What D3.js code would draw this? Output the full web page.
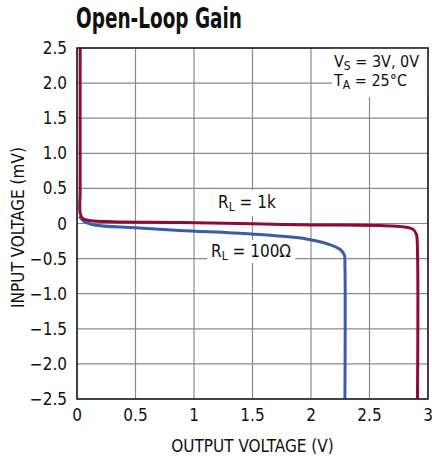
<!DOCTYPE html>
<html>
<head>
<meta charset="utf-8">
<script src="https://cdn.jsdelivr.net/npm/d3@7"></script>
<style>
  body { margin: 0; background: #fff; }
  text { font-family: "Liberation Sans Narrow", "DejaVu Sans Condensed", sans-serif; fill: #111; }
</style>
</head>
<body>
<script>
// Width and Height
const w = 432;
const h = 462;
const margin = {top: 48, right: 4, bottom: 63, left: 77};

// tick values
const xTicks = [0, 0.5, 1, 1.5, 2, 2.5, 3];
const xTickLabels = ["0", "0.5", "1", "1.5", "2", "2.5", "3"];
const yTicks = [2.5, 2.0, 1.5, 1.0, 0.5, 0, -0.5, -1.0, -1.5, -2.0, -2.5];
const yTickLabels = ["2.5", "2.0", "1.5", "1.0", "0.5", "0", "\u22120.5", "\u22121.0", "\u22121.5", "\u22122.0", "\u22122.5"];

// RL = 1k curve (output V, input mV)
const red1kX = [0.027, 0.027, 0.028, 0.05, 0.12, 0.3, 0.88, 1.5, 2.0, 2.59, 2.8, 2.87, 2.9, 2.91, 2.91];
const red1kY = [2.5, 0.5, 0.14, 0.07, 0.04, 0.025, 0.015, -0.005, -0.02, -0.03, -0.05, -0.08, -0.15, -0.4, -2.5];

// RL = 100 ohm curve
const blue100X = [0.02, 0.06, 0.15, 0.5, 0.88, 1.49, 1.96, 2.16, 2.25, 2.285, 2.29, 2.29];
const blue100Y = [0.1, 0.03, -0.02, -0.06, -0.10, -0.15, -0.22, -0.30, -0.37, -0.45, -0.6, -2.5];

const svg = d3.select("body")
              .append("svg")
              .attr("width", w)
              .attr("height", h);

const x = d3.scaleLinear().domain([0, 3]).range([margin.left, w - margin.right]);
const y = d3.scaleLinear().domain([-2.5, 2.5]).range([h - margin.bottom, margin.top]);

// grid
svg.append("g")
   .selectAll("line")
   .data(xTicks)
   .enter()
   .append("line")
   .attr("x1", d => x(d)).attr("x2", d => x(d))
   .attr("y1", y(2.5)).attr("y2", y(-2.5))
   .attr("stroke", "#8a8a8a").attr("stroke-width", 1.2);

svg.append("g")
   .selectAll("line")
   .data(yTicks)
   .enter()
   .append("line")
   .attr("x1", x(0)).attr("x2", x(3))
   .attr("y1", d => y(d)).attr("y2", d => y(d))
   .attr("stroke", "#8a8a8a").attr("stroke-width", 1.2);

// text with a subscript
function subText(g, xp, yp, main, sub, rest, size) {
  const t = g.append("text").attr("x", xp).attr("y", yp).style("font-size", size + "px");
  t.append("tspan").text(main);
  t.append("tspan").attr("dy", 3).style("font-size", "12px").text(sub);
  t.append("tspan").attr("dy", -3).text(rest);
  return t;
}

// label with white box behind it
function label(xp, yp, main, sub, rest, pad) {
  const g = svg.append("g");
  const rect = g.append("rect").attr("fill", "#fff");
  const t = subText(g, xp, yp, main, sub, rest, 17);
  const b = t.node().getBBox();
  rect.attr("x", b.x - pad[0]).attr("y", b.y - pad[1])
      .attr("width", b.width + pad[0] + pad[2]).attr("height", b.height + pad[1] + pad[3]);
  return g;
}

// line generator
const line = d3.line()
               .x(d => x(d[0]))
               .y(d => y(d[1]))
               .curve(d3.curveCatmullRom.alpha(0.5));

const redPts = red1kX.map((v, i) => [v, red1kY[i]]);
const bluePts = blue100X.map((v, i) => [v, blue100Y[i]]);

svg.append("path")
   .attr("d", line(bluePts))
   .attr("fill", "none")
   .attr("stroke", "#3a5cab")
   .attr("stroke-width", 3);

svg.append("path")
   .attr("d", line(redPts))
   .attr("fill", "none")
   .attr("stroke", "#8f0a35")
   .attr("stroke-width", 3);

// curve labels
label(218, 208, "R", "L", " = 1k", [5, 2, 30, 2]);
label(211, 257, "R", "L", " = 100\u03a9", [4, 1, 4, 0]);

// conditions box
const cond = svg.append("g");
cond.append("rect").attr("x", 332).attr("y", y(2.5)).attr("width", x(3) - 332).attr("height", 49).attr("fill", "#fff");
subText(cond, 334, 67, "V", "S", " = 3V, 0V", 16);
subText(cond, 334, 86, "T", "A", " = 25\u00b0C", 16);

// frame
svg.append("rect")
   .attr("x", x(0)).attr("y", y(2.5))
   .attr("width", x(3) - x(0)).attr("height", y(-2.5) - y(2.5))
   .attr("fill", "none").attr("stroke", "#222").attr("stroke-width", 1.6);

// tick labels
svg.append("g")
   .selectAll("text")
   .data(xTicks)
   .enter()
   .append("text")
   .attr("x", d => x(d))
   .attr("y", y(-2.5) + 22)
   .attr("text-anchor", "middle")
   .style("font-size", "17px")
   .text((d, i) => xTickLabels[i]);

svg.append("g")
   .selectAll("text")
   .data(yTicks)
   .enter()
   .append("text")
   .attr("x", x(0) - 10)
   .attr("y", d => y(d) + 6)
   .attr("text-anchor", "end")
   .style("font-size", "17px")
   .text((d, i) => yTickLabels[i]);

// axis titles
svg.append("text")
   .attr("x", (x(0) + x(3)) / 2)
   .attr("y", 452)
   .attr("text-anchor", "middle")
   .style("font-size", "17px")
   .text("OUTPUT VOLTAGE (V)");

svg.append("text")
   .attr("transform", "translate(24," + (y(0) + 4) + ") rotate(-90)")
   .attr("text-anchor", "middle")
   .style("font-size", "17px")
   .text("INPUT VOLTAGE (mV)");

// title
svg.append("text")
   .attr("x", 76)
   .attr("y", 28)
   .attr("textLength", 166)
   .attr("lengthAdjust", "spacingAndGlyphs")
   .style("font-size", "28px")
   .style("font-weight", "bold")
   .text("Open-Loop Gain");
</script>
</body>
</html>
